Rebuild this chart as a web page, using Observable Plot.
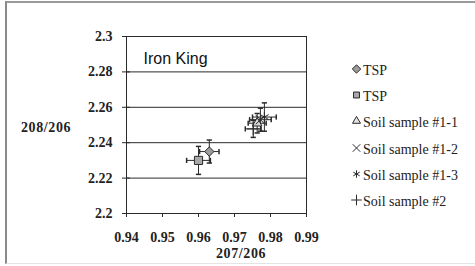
<!DOCTYPE html>
<html>
<head>
<meta charset="utf-8">
<script src="https://cdn.jsdelivr.net/npm/d3@7"></script>
<script src="https://cdn.jsdelivr.net/npm/@observablehq/plot@0.6"></script>
<style>
  html, body { margin: 0; padding: 0; background: #fff; }
  #wrap { position: relative; width: 475px; height: 266px; overflow: hidden; font-family: "Liberation Serif", serif; }
  #border { position: absolute; left: 5px; top: 1px; width: 480px; height: 263px; border-left: 2px solid #8a8a8a; border-top: 2px solid #9a9a9a; border-bottom: 1px solid #e4e4e4; box-sizing: border-box; }
  #chart { position: absolute; left: 0; top: 0; }
  .axlabel { position: absolute; font-weight: bold; font-size: 14px; color: #222; white-space: nowrap; letter-spacing: 0.6px; }
  #legend { position: absolute; left: 351px; top: 58px; font-size: 14px; color: #222; }
  #legend .item { height: 26.2px; display: flex; align-items: center; white-space: nowrap; }
  #legend svg { margin-right: 1px; position: relative; top: -2px; }
</style>
</head>
<body>
<div id="wrap">
  <div id="border"></div>
  <div id="chart"></div>
  <div class="axlabel" id="ylab" style="left:21px; top:120px;">208/206</div>
  <div class="axlabel" id="xlab" style="left:216px; top:246px;">207/206</div>
  <div id="legend"></div>
</div>
<script>
// ---- data ----
const seriesNames = ["TSP", "TSP", "Soil sample #1-1", "Soil sample #1-2", "Soil sample #1-3", "Soil sample #2"];
const ratio207 = [0.963, 0.960, 0.9763, 0.9772, 0.9783, 0.9752];
const ratio208 = [2.235, 2.230, 2.251, 2.253, 2.2545, 2.2478];
const err207 = [0.0027, 0.0033, 0.0025, 0.0030, 0.0033, 0.0022];
const err208 = [0.0065, 0.0079, 0.0055, 0.0065, 0.0080, 0.0048];
const xTicks = [0.94, 0.95, 0.96, 0.97, 0.98, 0.99];
const yTicks = [2.2, 2.22, 2.24, 2.26, 2.28, 2.3];
const chartTitle = "Iron King";

// ---- styles (not data) ----
const symbolNames = ["diamond2", "square2", "triangle2", "times", "asterisk", "plus"];
const symbolFills = ["#9c9c9c", "#a8a8a8", "#d8d8d8", "none", "none", "none"];
const symbolR = [4.2, 5.2, 4.6, 4.2, 4.6, 4.2];

const rows = seriesNames.map((name, i) => ({
  i, name, x: ratio207[i], y: ratio208[i], ex: err207[i], ey: err208[i]
}));

const capH = { draw(ctx, size) { const r = Math.sqrt(size / Math.PI); ctx.moveTo(-r, 0); ctx.lineTo(r, 0); } };
const capV = { draw(ctx, size) { const r = Math.sqrt(size / Math.PI); ctx.moveTo(0, -r); ctx.lineTo(0, r); } };

const ink = "#2a2a2a";

const markerMarks = rows.map(d => Plot.dot([d], {
  x: "x", y: "y",
  symbol: () => symbolNames[d.i],
  r: symbolR[d.i],
  fill: symbolFills[d.i],
  stroke: ink,
  strokeWidth: 1
}));

const plot = Plot.plot({
  width: 340,
  height: 266,
  marginLeft: 126,
  marginRight: 34,
  marginTop: 36,
  marginBottom: 53,
  style: { fontFamily: "Liberation Serif", fontSize: "14px", fontWeight: "bold", color: "#222", background: "transparent" },
  x: { domain: [0.94, 0.99] },
  y: { domain: [2.2, 2.3] },
  symbol: { type: "identity" },
  marks: [
    Plot.ruleY(yTicks.slice(1, -1), { stroke: ink, strokeWidth: 1 }),
    Plot.frame({ stroke: ink }),
    Plot.axisX({ ticks: xTicks, tickSize: 4, tickPadding: 15, tickFormat: d => d.toFixed(2), label: null, stroke: ink }),
    Plot.axisY({ ticks: yTicks, tickSize: 4, tickPadding: 10, tickFormat: d => String(+d.toFixed(2)), label: null, stroke: ink }),
    Plot.axisY({ ticks: yTicks, tickSize: -4, text: null, label: null, stroke: ink }),
    Plot.text([chartTitle], { frameAnchor: "top-left", textAnchor: "start", lineAnchor: "middle", dx: 17, dy: 22, fontFamily: "Liberation Sans", fontWeight: "normal", fontSize: 16, fill: "#111" }),
    // error bars
    Plot.link(rows, { x1: d => d.x - d.ex, x2: d => d.x + d.ex, y1: "y", y2: "y", stroke: ink, strokeWidth: 1 }),
    Plot.link(rows, { x1: "x", x2: "x", y1: d => d.y - d.ey, y2: d => d.y + d.ey, stroke: ink, strokeWidth: 1 }),
    Plot.dot(rows, { x: d => d.x - d.ex, y: "y", symbol: () => capV, r: 2.6, stroke: ink, fill: "none" }),
    Plot.dot(rows, { x: d => d.x + d.ex, y: "y", symbol: () => capV, r: 2.6, stroke: ink, fill: "none" }),
    Plot.dot(rows, { x: "x", y: d => d.y - d.ey, symbol: () => capH, r: 2.6, stroke: ink, fill: "none" }),
    Plot.dot(rows, { x: "x", y: d => d.y + d.ey, symbol: () => capH, r: 2.6, stroke: ink, fill: "none" }),
    ...markerMarks
  ]
});
document.getElementById("chart").appendChild(plot);

// legend
const symbolMap = {
  diamond2: d3.symbolDiamond2, square2: d3.symbolSquare2, triangle2: d3.symbolTriangle2,
  times: d3.symbolTimes, asterisk: d3.symbolAsterisk, plus: d3.symbolPlus
};
const legend = d3.select("#legend");
seriesNames.forEach((name, i) => {
  const item = legend.append("div").attr("class", "item");
  const svg = item.append("svg").attr("width", 11).attr("height", 12);
  const r = i < 3 ? 3.8 : 3.5;
  svg.append("path")
    .attr("transform", "translate(5.5,6)")
    .attr("d", d3.symbol(symbolMap[symbolNames[i]], Math.PI * r * r)())
    .attr("fill", symbolFills[i] === "none" ? "none" : (i === 2 ? "#e4e4e4" : symbolFills[i]))
    .attr("stroke", ink)
    .attr("stroke-width", 1);
  item.append("span").text(name);
});
</script>
</body>
</html>
